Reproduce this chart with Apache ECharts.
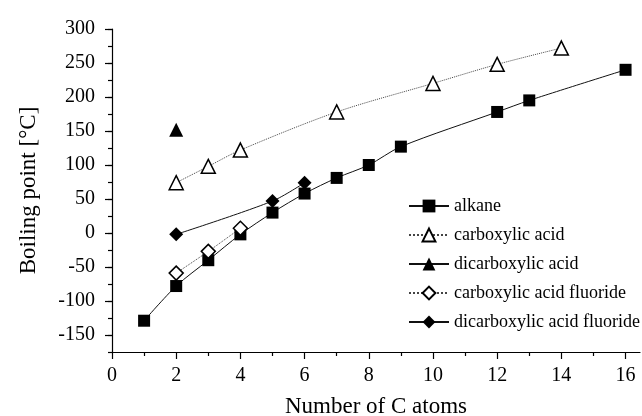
<!DOCTYPE html>
<html>
<head>
<meta charset="utf-8">
<script src="https://cdn.jsdelivr.net/npm/echarts@6/dist/echarts.min.js"></script>
<style>html,body{margin:0;padding:0;background:#fff}#c{width:642px;height:416px}</style>
</head>
<body>
<div id="c"></div>
<script>
// Data
const alkaneX = [1, 2, 3, 4, 5, 6, 7, 8, 9, 12, 13, 16];
const alkaneY = [-129, -78, -40, -2, 30, 58, 81, 100, 127, 178, 195, 240];
const carbAcidX = [2, 3, 4, 7, 10, 12, 14];
const carbAcidY = [74, 98, 122, 178, 220, 248, 272];
const dicarbAcidX = [2];
const dicarbAcidY = [152];
const carbFluorideX = [2, 3, 4];
const carbFluorideY = [-59, -27, 7];
const dicarbFluorideX = [2, 5, 6];
const dicarbFluorideY = [-2, 47, 74];
const xTicks = [0, 2, 4, 6, 8, 10, 12, 14, 16];
const xMinorTicks = [1, 3, 5, 7, 9, 11, 13, 15];
const yTicks = [-150, -100, -50, 0, 50, 100, 150, 200, 250, 300];
const seriesNames = ['alkane', 'carboxylic acid', 'dicarboxylic acid', 'carboxylic acid fluoride', 'dicarboxylic acid fluoride'];

const pairs = (xs, ys) => xs.map((x, i) => [x, ys[i]]);
const FONT = 'Liberation Serif';

const chart = echarts.init(document.getElementById('c'), null, {renderer: 'canvas'});
const black = '#000';
function mk(name, data, symbol, filled, lineType, size, smooth) {
  return {
    name, type: 'line', data, symbol, symbolSize: size, smooth,
    xAxisIndex: 0, yAxisIndex: 0,
    showAllSymbol: true,
    lineStyle: {color: lineType === 'solid' ? '#111' : '#444', width: 1, type: lineType},
    itemStyle: {color: filled ? black : '#fff', borderColor: black, borderWidth: filled ? 0 : 1.5, opacity: 1},
    emphasis: {disabled: true},
    animation: false, z: 3
  };
}
chart.setOption({
  animation: false,
  textStyle: {fontFamily: FONT},
  grid: {left: 112, right: 2, top: 29, bottom: 64, containLabel: false, outerBoundsMode: 'none'},
  xAxis: [{
    type: 'value', min: 0, max: 16.45,
    name: 'Number of C atoms', nameLocation: 'middle', nameGap: 43,
    nameTextStyle: {fontFamily: FONT, fontSize: 23, color: black},
    axisLine: {show: true, onZero: false, lineStyle: {color: black, width: 1.2}},
    axisTick: {show: true, inside: false, length: 7, customValues: xTicks, lineStyle: {color: black, width: 1.2}},
    axisLabel: {customValues: xTicks, fontFamily: FONT, fontSize: 20, color: black, margin: 14},
    splitLine: {show: false}
  }, {
    type: 'value', min: 0, max: 16.45, position: 'bottom',
    axisLine: {show: false, onZero: false},
    axisTick: {show: true, length: 4, customValues: xMinorTicks, lineStyle: {color: black, width: 1.2}},
    axisLabel: {show: false}, splitLine: {show: false}
  }],
  yAxis: [{
    type: 'value', min: -175, max: 300,
    name: 'Boiling point [°C]', nameLocation: 'middle', nameGap: 72, nameRotate: 90,
    nameTextStyle: {fontFamily: FONT, fontSize: 23, color: black},
    axisLine: {show: true, onZero: false, lineStyle: {color: black, width: 1.2}},
    axisTick: {show: true, length: 7, customValues: yTicks, lineStyle: {color: black, width: 1.2}},
    axisLabel: {customValues: yTicks, fontFamily: FONT, fontSize: 20, color: black, margin: 17},
    splitLine: {show: false}
  }, {
    type: 'value', min: -175, max: 300, interval: 25, position: 'left',
    axisLine: {show: false, onZero: false},
    axisTick: {show: true, length: 4, lineStyle: {color: black, width: 1.2}},
    axisLabel: {show: false}, splitLine: {show: false}
  }],
  legend: {
    orient: 'vertical', left: 403, top: 192,
    itemWidth: 40, itemHeight: 16, itemGap: 11,
    data: seriesNames,
    textStyle: {fontFamily: FONT, fontSize: 18, color: black, lineHeight: 16}
  },
  series: [
    mk(seriesNames[0], pairs(alkaneX, alkaneY), 'rect', true, 'solid', 12, 0.3),
    mk(seriesNames[1], pairs(carbAcidX, carbAcidY), 'triangle', false, 'dotted', 14, 0.3),
    mk(seriesNames[2], pairs(dicarbAcidX, dicarbAcidY), 'triangle', true, 'solid', 14, false),
    mk(seriesNames[3], pairs(carbFluorideX, carbFluorideY), 'diamond', false, 'dotted', 14, 0.3),
    mk(seriesNames[4], pairs(dicarbFluorideX, dicarbFluorideY), 'diamond', true, 'solid', 14, 0.3)
  ]
});
</script>
</body>
</html>
